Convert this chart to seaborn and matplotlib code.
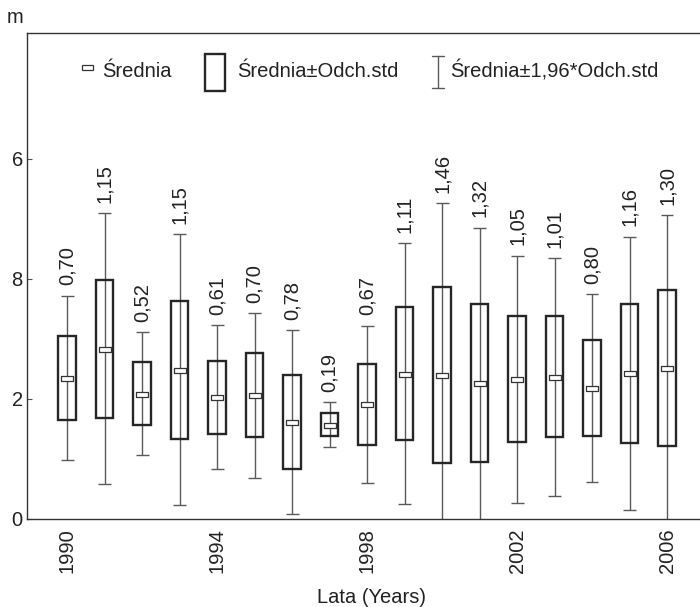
import numpy as np
import pandas as pd
import matplotlib
matplotlib.use("Agg")
import matplotlib.pyplot as plt
import seaborn as sns
from matplotlib.patches import Rectangle
from matplotlib.lines import Line2D

years = list(range(1990, 2007))
means = [2.35, 2.84, 2.09, 2.49, 2.03, 2.06, 1.62, 1.57, 1.91, 2.42,
         2.40, 2.27, 2.33, 2.37, 2.18, 2.43, 2.52]
stds = [0.70, 1.15, 0.52, 1.15, 0.61, 0.70, 0.78, 0.19, 0.67, 1.11,
        1.46, 1.32, 1.05, 1.01, 0.80, 1.16, 1.30]
std_labels = ["0,70", "1,15", "0,52", "1,15", "0,61", "0,70", "0,78", "0,19", "0,67",
              "1,11", "1,46", "1,32", "1,05", "1,01", "0,80", "1,16", "1,30"]
xtick_pos = [1990, 1994, 1998, 2002, 2006]
xtick_labels = ["1990", "1994", "1998", "2002", "2006"]
ytick_pos = [0, 2, 4, 6]
ytick_labels = ["0", "2", "8", "6"]
legend_labels = ["Średnia", "Średnia±Odch.std", "Średnia±1,96*Odch.std"]

df = pd.DataFrame({"year": years, "mean": means, "std": stds})
df["lo"] = df["mean"] - df["std"]
df["hi"] = df["mean"] + df["std"]
df["wlo"] = df["mean"] - 1.96 * df["std"]
df["whi"] = df["mean"] + 1.96 * df["std"]

sns.set_style("ticks")
plt.rcParams["font.family"] = ["Liberation Sans", "DejaVu Sans"]
FS = 14.5
TXT = "#222222"
BOX = "#262626"
WHIS = "#5a5a5a"

W, H = 700, 607
fig = plt.figure(figsize=(W / 100, H / 100), dpi=100)
ax = fig.add_axes([27 / W, (H - 519) / H, 1 - 27 / W, (519 - 33) / H])

# whiskers and caps
ax.vlines(df["year"], df["wlo"], df["whi"], color=WHIS, lw=1.0, zorder=2)
cap = 0.17
ax.hlines(df["whi"], df["year"] - cap, df["year"] + cap, color=WHIS, lw=1.0, zorder=2)
ax.hlines(df["wlo"], df["year"] - cap, df["year"] + cap, color=WHIS, lw=1.0, zorder=2)

# boxes mean +- std
ax.bar(df["year"], df["hi"] - df["lo"], bottom=df["lo"], width=0.47,
       fill=False, edgecolor=BOX, linewidth=1.7, zorder=3)

# mean markers
mverts = [(-1, -0.45), (1, -0.45), (1, 0.45), (-1, 0.45), (-1, -0.45)]
sns.scatterplot(data=df, x="year", y="mean", marker=mverts, s=64,
                facecolor="white", edgecolor="#333333", linewidth=0.9,
                zorder=4, ax=ax, legend=False)

# std labels
for yr, top, lab in zip(df["year"], df["whi"], std_labels):
    ax.annotate(lab, (yr, top), xytext=(0, 7.5), textcoords="offset points",
                rotation=90, ha="center", va="bottom", fontsize=FS, color=TXT)

ax.set_xlim(1988.93, 1988.93 + 673 / 37.5)
ax.set_ylim(0, 8.1)
ax.set_xticks(xtick_pos)
ax.set_xticklabels(xtick_labels, rotation=90, fontsize=FS, color=TXT)
ax.set_yticks(ytick_pos)
ax.set_yticklabels(ytick_labels, fontsize=FS, color=TXT)
ax.tick_params(axis="x", length=0, pad=6.5)
ax.tick_params(axis="y", direction="in", length=3.6, width=0.8, color="#555555", pad=3)
ax.set_xlabel("")
ax.set_ylabel("")
for s in ["left", "bottom", "top"]:
    ax.spines[s].set_color("#333333")
    ax.spines[s].set_linewidth(1.0)
ax.spines["right"].set_visible(False)

def fx(x):
    return x / W

def fy(y):
    return 1 - y / H

# legend drawn manually
fig.add_artist(Rectangle((fx(81.7), fy(70)), fx(11), 5 / H, transform=fig.transFigure,
                         fill=True, facecolor="white", edgecolor="#333333", lw=0.9))
fig.add_artist(Rectangle((fx(205), fy(91)), fx(20), 37 / H, transform=fig.transFigure,
                         fill=False, edgecolor=BOX, lw=1.7))
fig.add_artist(Line2D([fx(437.6), fx(437.6)], [fy(56), fy(88)], transform=fig.transFigure,
                      color=WHIS, lw=1.0))
for yy in (56, 88):
    fig.add_artist(Line2D([fx(431.5), fx(443.5)], [fy(yy), fy(yy)], transform=fig.transFigure,
                          color=WHIS, lw=1.0))
for xx, lab in zip([102, 237.6, 450], legend_labels):
    fig.text(fx(xx), fy(77), lab, fontsize=FS, color=TXT, ha="left", va="baseline")

fig.text(fx(7), fy(23), "m", fontsize=FS, color=TXT, ha="left", va="baseline")
fig.text(fx(371.5), fy(603), "Lata (Years)", fontsize=FS, color=TXT, ha="center", va="baseline")

fig.savefig("out.png", dpi=100)
